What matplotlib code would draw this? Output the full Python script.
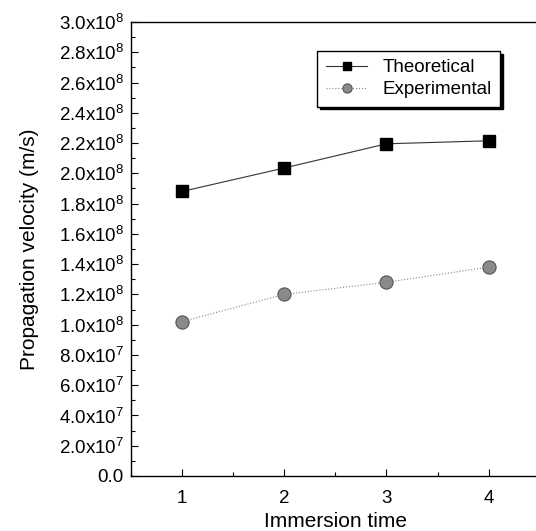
import matplotlib
matplotlib.use('Agg')
import matplotlib.pyplot as plt
from matplotlib.ticker import FuncFormatter, MultipleLocator

plt.rcParams['font.family'] = ['Liberation Sans', 'DejaVu Sans']
plt.rcParams['mathtext.fontset'] = 'custom'
plt.rcParams['mathtext.rm'] = 'Liberation Sans'
plt.rcParams['mathtext.it'] = 'Liberation Sans'

# data
immersion = [1, 2, 3, 4]
theoretical = [1.88e8, 2.035e8, 2.195e8, 2.215e8]
experimental = [1.02e8, 1.20e8, 1.28e8, 1.38e8]


def sci_fmt(v, pos):
    if v == 0:
        return '0.0'
    exp = 0
    m = v
    while abs(m) >= 10:
        m /= 10.0
        exp += 1
    return r'%.1fx10$^{%d}$' % (m, exp)


fig = plt.figure(figsize=(5.36, 5.31), dpi=100)
ax = fig.add_axes([0.244, 0.1036, 0.763, 0.855])

ax.plot(immersion, theoretical, color='#333333', lw=0.8, ls='-',
        marker='s', ms=9, mfc='black', mec='black', label='Theoretical')
ax.plot(immersion, experimental, color='#888888', lw=0.8, ls=':',
        marker='o', ms=9.5, mfc='#8a8a8a', mec='#555555', mew=0.8,
        label='Experimental')

ax.set_xlim(0.5, 4.5)
ax.set_ylim(0, 3.0e8)
ax.xaxis.set_major_locator(MultipleLocator(1))
ax.xaxis.set_minor_locator(MultipleLocator(0.5))
ax.yaxis.set_major_locator(MultipleLocator(2e7))
ax.yaxis.set_minor_locator(MultipleLocator(1e7))
ax.yaxis.set_major_formatter(FuncFormatter(sci_fmt))

ax.tick_params(which='both', direction='in', labelsize=13.5, width=0.8)
ax.tick_params(which='major', length=5)
ax.tick_params(which='minor', length=3)
ax.tick_params(axis='x', pad=10)
ax.tick_params(axis='y', pad=5)
ax.spines['right'].set_visible(False)
for s in ['left', 'bottom', 'top']:
    ax.spines[s].set_linewidth(1.0)

ax.set_xlabel('Immersion time', fontsize=15, labelpad=4)
ax.set_ylabel('Propagation velocity (m/s)', fontsize=15, labelpad=14)

leg = ax.legend(loc='upper right', bbox_to_anchor=(0.95, 0.922),
                bbox_transform=fig.transFigure, fontsize=13.5,
                fancybox=False, shadow={'color': 'black', 'alpha': 1},
                edgecolor='black', framealpha=1, handlelength=2.2,
                borderpad=0.45, labelspacing=0.25, markerscale=0.7)
leg.get_frame().set_linewidth(1.0)

fig.savefig('out.png', dpi=100)
